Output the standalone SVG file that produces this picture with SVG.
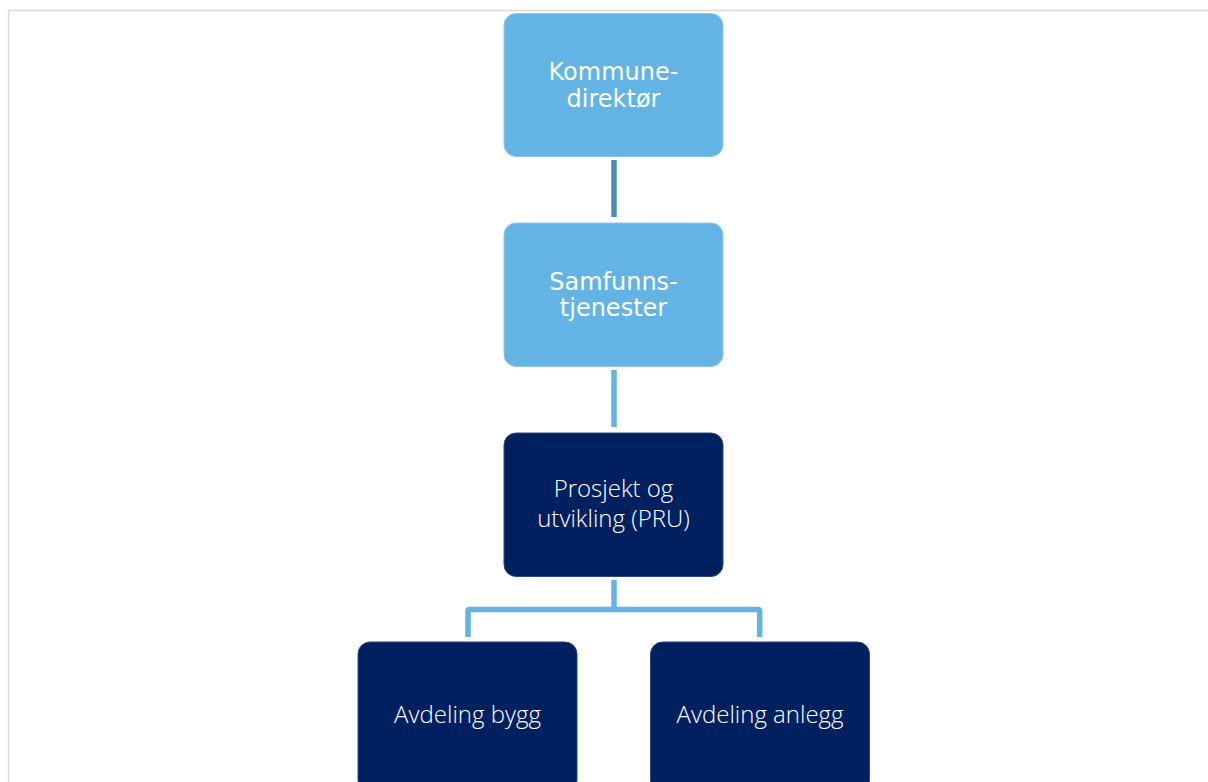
<svg xmlns="http://www.w3.org/2000/svg" width="1208" height="782" viewBox="0 0 1208 782">
<style>
.light{fill:#63b4e4;stroke:#8cc8ec;stroke-width:1}
.dark{fill:#002060;stroke:#2a4a80;stroke-width:1}
.t1{font-family:"DejaVu Sans",Verdana,sans-serif;font-size:24px;fill:#ffffff;text-anchor:middle}
.t2{font-family:"Open Sans","Noto Sans",sans-serif;font-weight:300;font-size:24px;fill:#ffffff;text-anchor:middle}
.c{fill:none;stroke:#63b4e4;stroke-width:5.5}
</style>
<rect x="0" y="0" width="1208" height="782" fill="#ffffff"/>
<path d="M8.5,782 V10.5 H1208" fill="none" stroke="#d9d9d9" stroke-width="1.5"/>
<g id="connectors">
<line x1="614" y1="160" x2="614" y2="217" stroke="#4a8fb8" stroke-width="5.5"/>
<line class="c" x1="614" y1="370" x2="614" y2="427"/>
<path class="c" d="M614,580 V609.5"/>
<path class="c" d="M468,637 V611 Q468,609.5 470,609.5 H758 Q759.7,609.5 759.7,611 V637"/>
</g>
<g id="n1">
<rect class="light" x="504" y="13.5" width="219" height="143" rx="12"/>
<text class="t1" x="613.5" y="80">Kommune-</text>
<text class="t1" x="613.5" y="107">direktør</text>
</g>
<g id="n2">
<rect class="light" x="504" y="223" width="219" height="143.5" rx="12"/>
<text class="t1" x="613.5" y="290">Samfunns-</text>
<text class="t1" x="613.5" y="316">tjenester</text>
</g>
<g id="n3">
<rect class="dark" x="504" y="433" width="219" height="143.5" rx="12"/>
<text class="t2" x="613.5" y="497">Prosjekt og</text>
<text class="t2" x="613.5" y="527">utvikling (PRU)</text>
</g>
<g id="n4">
<rect class="dark" x="358" y="642" width="219" height="150" rx="12"/>
<text class="t2" x="467.5" y="723">Avdeling bygg</text>
</g>
<g id="n5">
<rect class="dark" x="650.5" y="642" width="219" height="150" rx="12"/>
<text class="t2" x="760" y="723">Avdeling anlegg</text>
</g>
</svg>
